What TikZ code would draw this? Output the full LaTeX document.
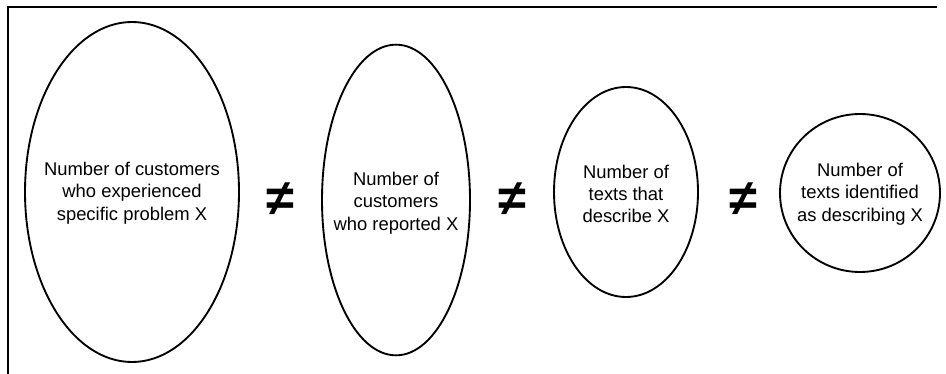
\documentclass[tikz,border=0pt]{standalone}
\usepackage{fontspec}
\setmainfont{Liberation Sans}
\usetikzlibrary{shapes.geometric}
\begin{document}
\begin{tikzpicture}[x=0.75pt,y=-0.75pt,
  set/.style={draw, line width=1.4pt, ellipse, inner sep=0pt},
  label/.style={align=center, font=\fontsize{13.8}{16.8}\selectfont},
  neq/.style={font=\fontsize{38}{38}\selectfont\bfseries, inner sep=0pt}]
\useasboundingbox (0,0) rectangle (946,374);
% frame: top and left edges only
\draw[line width=1.4pt] (8,374) -- (8,7) -- (937,7);
% the four sets (sizes in pt)
\node[set, minimum width=160.5pt, minimum height=255pt] (s1) at (132,192) {};
\node[set, minimum width=111pt, minimum height=233pt] (s2) at (396,200) {};
\node[set, minimum width=108pt, minimum height=157.5pt] (s3) at (626,192) {};
\node[set, minimum width=120pt, minimum height=118.5pt] (s4) at (860,193) {};
\node[label] (t1) at (132,193) {Number of customers\\who experienced\\specific problem X};
\node[label] (t2) at (396,203) {Number of\\customers\\who reported X};
\node[label] (t3) at (626,194) {Number of\\texts that\\describe X};
\node[label] (t4) at (860,194) {Number of\\texts identified\\as describing X};
% inequality signs between neighbouring sets
\node[neq] (n1) at (280,199) {≠};
\node[neq] (n2) at (512,199) {≠};
\node[neq] (n3) at (743,199) {≠};
\end{tikzpicture}
\end{document}
